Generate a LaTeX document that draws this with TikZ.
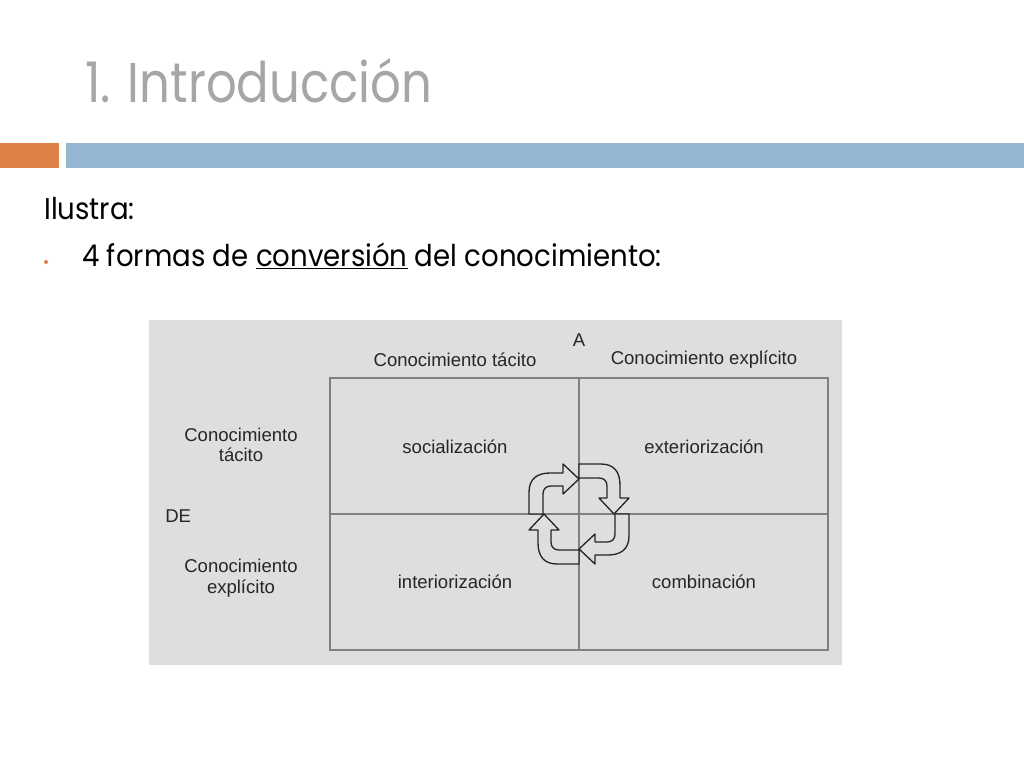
\documentclass[tikz,border=0pt]{standalone}
\usepackage{fontspec}
\setmainfont{Poppins}
\newfontfamily\titlefont[FakeStretch=0.86]{Poppins}
\newfontfamily\bodyfont[FakeStretch=0.92]{Poppins}
\newfontfamily\diagfont{Liberation Sans}
\definecolor{titlegray}{HTML}{A6A6A6}
\definecolor{barorange}{HTML}{DD8047}
\definecolor{barblue}{HTML}{94B6D2}
\definecolor{panelgray}{HTML}{DEDEDE}
\definecolor{gridgray}{HTML}{808080}
\definecolor{inkgray}{HTML}{262626}

\begin{document}
\begin{tikzpicture}[x=0.75pt,y=-0.75pt,
  label text/.style={font=\diagfont\fontsize{13.9}{15.5}\selectfont,text=inkgray,inner sep=0pt,align=center},
  body text/.style={anchor=base west,inner sep=0pt,font=\bodyfont\fontsize{22.5}{27}\selectfont},
  cycle arrow/.style={draw=inkgray,fill=panelgray,line width=1pt,line join=round}]

  \useasboundingbox[fill=white] (0,0) rectangle (1024,768);

  % title and bars
  \node[anchor=base west,inner sep=0pt,text=titlegray,font=\titlefont\fontsize{42}{48}\selectfont] (title) at (85,102) {1. Introducción};
  \fill[barorange] (0,143) rectangle (59,168);
  \fill[barblue] (66,143) rectangle (1024,168);

  \node[body text] (ilustra) at (44,219) {Ilustra:};
  \node[circle,fill=barorange,inner sep=0pt,minimum size=3pt] (bullet) at (46,262) {};
  \node[body text] (formas) at (82,266) {4 formas de \underline{conversión} del conocimiento:};

  % panel and grid
  \fill[panelgray] (149,320) rectangle (842,665);
  \coordinate (c) at (579,514);
  \draw[gridgray,line width=0.8pt] (330,378) rectangle (828,650);
  \draw[gridgray,line width=0.8pt] (579,378) -- (579,650) (330,514) -- (828,514);

  \node[label text] (a) at (579,340) {A};
  \node[label text] (tacA) at (455,360) {Conocimiento tácito};
  \node[label text] (expA) at (704,360) {Conocimiento explícito};
  \node[label text] (tacDE) at (241,445) {Conocimiento\\tácito};
  \node[label text,anchor=west] (de) at (165,516) {DE};
  \node[label text] (expDE) at (241,578) {Conocimiento\\explícito};

  \node[label text] (soc) at (455,447) {socialización};
  \node[label text] (ext) at (704,447) {exteriorización};
  \node[label text] (int) at (455,582) {interiorización};
  \node[label text] (com) at (704,582) {combinación};

  % cycle of four arrows
  \foreach \a in {0,-90,-180,-270}
    \draw[cycle arrow,shift={(c)},yscale=-1,rotate=\a]
      (-50,0) -- (-50,22) .. controls (-50,35) and (-42,41) .. (-29,41)
      -- (-16,41) -- (-16,50) -- (0,35) -- (-16,20) -- (-16,28)
      -- (-28,28) .. controls (-33,28) and (-36,25) .. (-36,20) -- (-36,0) -- cycle;
\end{tikzpicture}
\end{document}
